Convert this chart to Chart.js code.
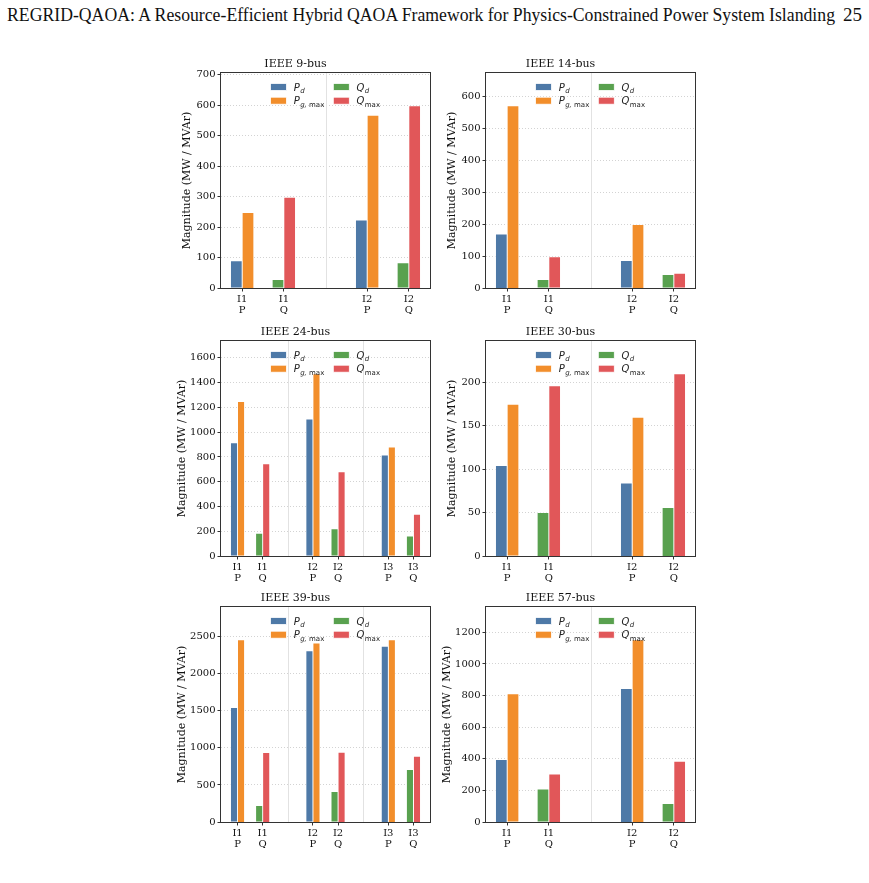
<!DOCTYPE html>
<html><head><meta charset="utf-8">
<script src="https://cdn.jsdelivr.net/npm/chart.js@4.4.1/dist/chart.umd.min.js"></script>
<style>
html,body{margin:0;padding:0;background:#fff;width:869px;height:883px;overflow:hidden;position:relative}
#hdr{position:absolute;left:7px;top:4px;font-family:'Liberation Serif',serif;font-size:19px;color:#111;white-space:nowrap;transform-origin:0 0;line-height:22px}
#pg{position:absolute;right:7px;top:4px;font-family:'Liberation Serif',serif;font-size:19px;color:#111;line-height:22px}
canvas{position:absolute}
</style></head><body>
<div id="hdr">REGRID-QAOA: A Resource-Efficient Hybrid QAOA Framework for Physics-Constrained Power System Islanding</div>
<div id="pg">25</div>
<script>
// ---- data ----
const SYSTEMS = ['IEEE 9-bus','IEEE 14-bus','IEEE 24-bus','IEEE 30-bus','IEEE 39-bus','IEEE 57-bus'];
const P_D    = [[89,223],[169,86],[914,1105,815],[104.2,83.8],[1544,2310,2373],[395,845]];
const PG_MAX = [[248,567],[571,199],[1248,1471,879],[174.6,159.6],[2459,2414,2459],[811,1153]];
const Q_D    = [[28,83],[26.5,42],[183,220,161],[50,55.8],[222,412,707],[208,117]];
const Q_MAX  = [[298,598],[98,46],[745,680,336],[195.8,209.6],[937,942,888],[304,384]];
const Y_STEP = [100,100,200,50,500,200];
const ISLAND_LABELS = ['I1','I2','I3'];
const KIND_LABELS = ['P','Q'];
const LEGEND_LABELS = [['P','d',''],['P','g, ','max'],['Q','d',''],['Q','','max']];
const COLORS = ['#4E79A7','#F28E2B','#59A14F','#E15759'];

// ---- layout ----
const BAR_W = 0.28;
const PLOT_LEFT = [221,486];
const PLOT_TOP = [73,341,607];
const Y_AXIS_W = 60, TITLE_H = 20, X_AXIS_H = 40, PLOT_W = 209, PLOT_H = 215, PAD_R = 6;

Chart.defaults.font.family = "'DejaVu Serif'";
Chart.defaults.color = '#111';

const framePlugin = {
  id: 'frame',
  beforeDatasetsDraw(chart) {
    const {ctx, chartArea: a} = chart;
    const x = chart.scales.x;
    const n = chart.$islands;
    ctx.save();
    ctx.strokeStyle = '#e2e2e2';
    ctx.lineWidth = 1;
    for (let k = 1; k < n; k++) {
      const px = Math.round(x.getPixelForValue(3 * k - 1)) + 0.5;
      ctx.beginPath(); ctx.moveTo(px, a.top); ctx.lineTo(px, a.bottom); ctx.stroke();
    }
    ctx.restore();
  },
  afterDraw(chart) {
    const {ctx, chartArea: a} = chart;
    ctx.save();
    ctx.strokeStyle = '#333';
    ctx.lineWidth = 1;
    ctx.strokeRect(a.left - 0.5, a.top - 0.5, a.width + 1, a.height + 1);
    ctx.restore();
  }
};

const legendPlugin = {
  id: 'mplLegend',
  afterDatasetsDraw(chart) {
    const {ctx, chartArea: a} = chart;
    const cx = (a.left + a.right) / 2;
    const cols = [cx - 55, cx + 7.8];
    const rows = [a.top + 14, a.top + 27.7];
    chart.data.datasets.forEach((ds, i) => {
      const x = cols[Math.floor(i / 2)], y = rows[i % 2];
      ctx.save();
      ctx.fillStyle = ds.backgroundColor;
      ctx.fillRect(x, y - 3.5, 16, 7);
      ctx.strokeStyle = '#fff'; ctx.lineWidth = 0.8;
      ctx.strokeRect(x, y - 3.5, 16, 7);
      const [main, subIt, subUp] = LEGEND_LABELS[i];
      let tx = x + 23.3; const by = y + 3.7;
      ctx.fillStyle = '#222'; ctx.textBaseline = 'alphabetic'; ctx.textAlign = 'left';
      ctx.font = "italic 10px 'DejaVu Sans'";
      ctx.fillText(main, tx, by); tx += ctx.measureText(main).width + 0.3;
      ctx.font = "italic 7px 'DejaVu Sans'";
      ctx.fillText(subIt, tx, by + 2.3); tx += ctx.measureText(subIt).width;
      ctx.font = "7px 'DejaVu Sans'";
      ctx.fillText(subUp, tx, by + 2.3);
      ctx.restore();
    });
  }
};

function makePanel(p) {
  const nIsl = P_D[p].length;
  const series = [P_D[p], PG_MAX[p], Q_D[p], Q_MAX[p]];
  const offs = [[0,-1],[0,1],[1,-1],[1,1]];
  const datasets = series.map((vals, s) => ({
    label: LEGEND_LABELS[s].join(''),
    data: vals.map((v, i) => ({x: 3 * i + offs[s][0] + offs[s][1] * BAR_W / 2, y: v})),
    backgroundColor: COLORS[s],
    borderColor: 'rgba(255,255,255,0.9)',
    borderWidth: 0.8,
    grouped: false,
    barThickness: 10
  }));
  const tickPos = [];
  for (let i = 0; i < nIsl; i++) tickPos.push(3 * i, 3 * i + 1);
  const lo = -BAR_W, hi = 3 * (nIsl - 1) + 1 + BAR_W;
  const m = 0.05 * (hi - lo);
  const ymax = Math.max(...series.flat()) * 1.18;
  const yTicks = [];
  for (let v = 0; v <= ymax; v += Y_STEP[p]) yTicks.push(v);
  const wide = String(yTicks[yTicks.length - 1]).length >= 4;

  const cv = document.createElement('canvas');
  const W = Y_AXIS_W + PLOT_W + PAD_R, H = TITLE_H + PLOT_H + X_AXIS_H;
  cv.width = W; cv.height = H;
  cv.style.width = W + 'px'; cv.style.height = H + 'px';
  cv.style.left = (PLOT_LEFT[p % 2] - Y_AXIS_W) + 'px';
  cv.style.top = (PLOT_TOP[Math.floor(p / 2)] - TITLE_H) + 'px';
  document.body.appendChild(cv);

  const chart = new Chart(cv, {
    type: 'bar',
    data: {datasets},
    options: {
      responsive: false, animation: false, devicePixelRatio: 1,
      layout: {padding: {left: 0, right: PAD_R, top: 0, bottom: 0}},
      plugins: {
        legend: {display: false}, tooltip: {enabled: false},
        title: {display: true, text: SYSTEMS[p], color: '#111',
          font: {family: "'DejaVu Serif'", size: 11, weight: 'normal', lineHeight: 1.2},
          padding: {top: 4.8, bottom: 2}}
      },
      scales: {
        x: {
          type: 'linear', min: lo - m, max: hi + m, offset: false,
          afterFit(s) { s.height = X_AXIS_H; },
          afterBuildTicks(s) { s.ticks = tickPos.map(v => ({value: v})); },
          grid: {display: true, drawOnChartArea: false, drawTicks: true, tickLength: 3.5, tickColor: '#333', tickWidth: 1, offset: false},
          border: {display: false},
          ticks: {autoSkip: false, maxRotation: 0, minRotation: 0, padding: 2, color: '#111',
            font: {size: 10, lineHeight: 1.1},
            callback: v => { const i = Math.floor(v / 3); return [ISLAND_LABELS[i], KIND_LABELS[v - 3 * i]]; }}
        },
        y: {
          min: 0, max: ymax,
          afterFit(s) { s.width = Y_AXIS_W; },
          afterBuildTicks(s) { s.ticks = yTicks.map(v => ({value: v})); },
          grid: {color: 'rgba(0,0,0,0.22)', lineWidth: 0.8, drawTicks: true, tickLength: 3.5, tickColor: '#333', tickWidth: 1, tickBorderDash: []},
          border: {display: false, dash: [1, 2]},
          ticks: {autoSkip: false, padding: 2, color: '#111', font: {size: 10},
            callback: v => String(v)},
          title: {display: true, text: 'Magnitude (MW / MVAr)', color: '#111',
            font: {size: 11, lineHeight: 1.2}, padding: {top: wide ? 14.1 : 19.1, bottom: 0}}
        }
      }
    },
    plugins: [framePlugin, legendPlugin]
  });
  chart.$islands = nIsl;
  const xs = chart.scales.x;
  const px = xs.getPixelForValue(BAR_W) - xs.getPixelForValue(0);
  chart.data.datasets.forEach(d => d.barThickness = px);
  chart.update('none');
}

for (let p = 0; p < SYSTEMS.length; p++) makePanel(p);

const hdr = document.getElementById('hdr');
const w = hdr.getBoundingClientRect().width;
hdr.style.transform = 'scaleX(' + (828 / w) + ')';
</script>
</body></html>
